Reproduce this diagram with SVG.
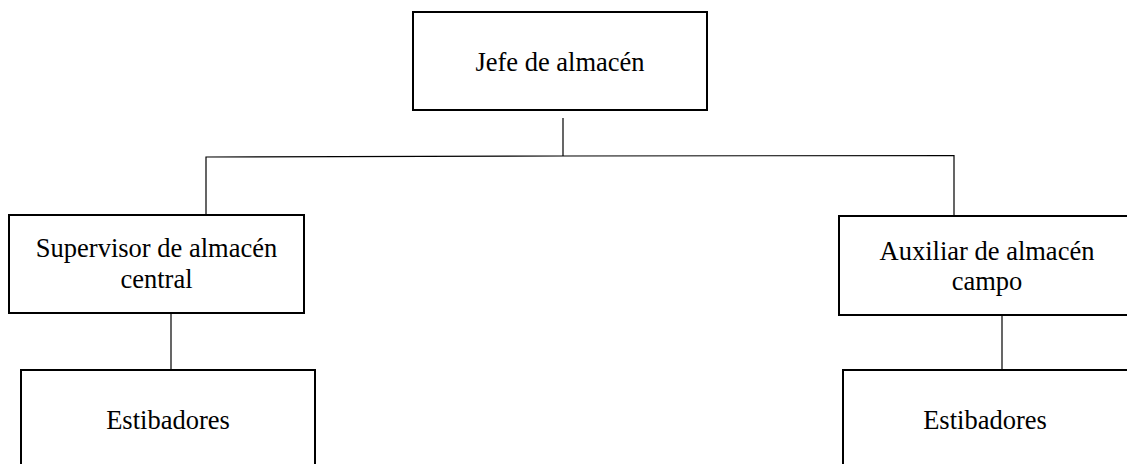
<svg xmlns="http://www.w3.org/2000/svg" width="1127" height="464" viewBox="0 0 1127 464">
<style>
.box{fill:#fff;stroke:#000;stroke-width:2}
.lbl{font-family:"Liberation Serif","Times New Roman",serif;font-size:26.5px;fill:#000;text-anchor:middle}
.conn{stroke:#000;stroke-width:1.2;fill:none}
</style>
<rect width="1127" height="464" fill="#fff"/>
<g id="connectors">
<line class="conn" x1="563" y1="118" x2="563" y2="156"/>
<polyline class="conn" points="206,215 206,157 563,156 954,155.5 954,216"/>
<line class="conn" x1="171" y1="313" x2="171" y2="370"/>
<line class="conn" x1="1002" y1="315" x2="1002" y2="370"/>
</g>
<g id="jefe">
<rect class="box" x="413" y="12" width="294" height="98"/>
<text class="lbl" x="560" y="71">Jefe de almacén</text>
</g>
<g id="supervisor">
<rect class="box" x="9" y="215" width="295" height="98"/>
<text class="lbl" x="156.5" y="257">Supervisor de almacén</text>
<text class="lbl" x="156.5" y="288">central</text>
</g>
<g id="auxiliar">
<rect class="box" x="839" y="216" width="296" height="99"/>
<text class="lbl" x="987" y="260">Auxiliar de almacén</text>
<text class="lbl" x="987" y="290">campo</text>
</g>
<g id="estibadores-central">
<rect class="box" x="21" y="370" width="294" height="110"/>
<text class="lbl" x="168" y="429">Estibadores</text>
</g>
<g id="estibadores-campo">
<rect class="box" x="843" y="370" width="300" height="110"/>
<text class="lbl" x="985" y="429">Estibadores</text>
</g>
</svg>
